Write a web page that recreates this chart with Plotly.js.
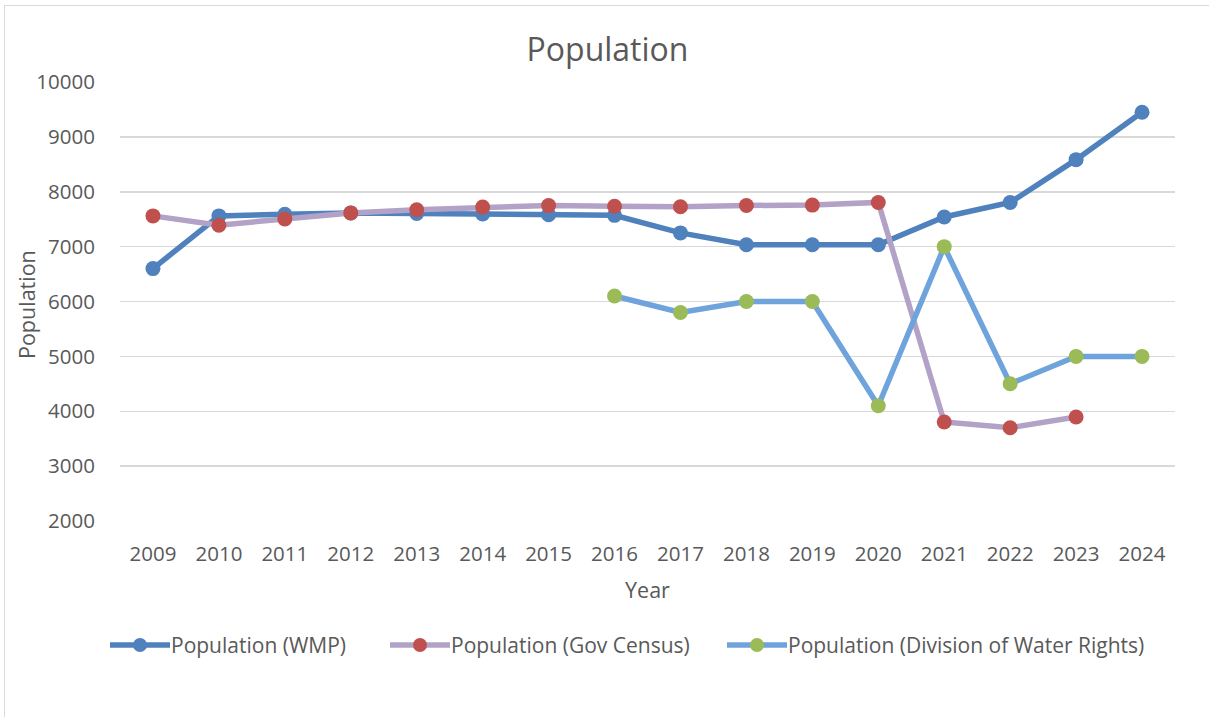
<!DOCTYPE html>
<html>
<head>
<meta charset="utf-8">
<script src="https://cdn.plot.ly/plotly-3.0.1.min.js"></script>
<style>
  body { margin: 0; padding: 0; background: #fff; overflow: hidden; }
  #wrap { position: relative; width: 1209px; height: 717px; }
  #chart { width: 1209px; height: 717px; }
  #frame { position: absolute; left: 4px; top: 5px; width: 1400px; height: 900px;
           border-left: 1.5px solid #D9D9D9; border-top: 1.5px solid #D9D9D9; pointer-events: none; }
</style>
</head>
<body>
<div id="wrap">
  <div id="chart"></div>
  <div id="frame"></div>
</div>
<script>
const years = ["2009","2010","2011","2012","2013","2014","2015","2016","2017","2018","2019","2020","2021","2022","2023","2024"];
const popWMP = [6600, 7560, 7590, 7615, 7605, 7595, 7580, 7570, 7250, 7035, 7035, 7035, 7540, 7805, 8585, 9450];
const popGovCensus = [7560, 7390, 7505, 7612, 7672, 7720, 7748, 7735, 7727, 7750, 7757, 7805, 3805, 3700, 3895, null];
const popWaterRights = [null, null, null, null, null, null, null, 6100, 5800, 6000, 6000, 4100, 7000, 4500, 5000, 5000];
const seriesNames = ["Population (WMP)", "Population (Gov Census)", "Population (Division of Water Rights)"];
const yTicks = [2000, 3000, 4000, 5000, 6000, 7000, 8000, 9000, 10000];

const FONT = '"Open Sans", "Liberation Sans", sans-serif';
const TXT = '#595959';
const lineColors = ['#4F81BD', '#B3A2C7', '#6FA3DC'];
const markerColors = ['#4F81BD', '#C0504D', '#9BBB59'];
const seriesData = [popWMP, popGovCensus, popWaterRights];

const traces = seriesData.map((vals, i) => ({
  x: years, y: vals, name: seriesNames[i], type: 'scatter', mode: 'lines+markers',
  line: { color: lineColors[i], width: 5.5 }, marker: { color: markerColors[i], size: 15 },
  showlegend: false
}));

// Plot area geometry (px) for the custom legend placement
const M = { l: 120, r: 34, t: 82, b: 196 };
const W = 1209, H = 717;
const pw = W - M.l - M.r, ph = H - M.t - M.b;
const px2x = px => (px - M.l) / pw;
const py2y = py => 1 - (py - M.t) / ph;

// legend item start x positions (px) and symbol length
const legendStarts = [110, 390, 727];
const symLen = 60;
const legendY = 645;
const shapes = [];
const annotations = [];
seriesNames.forEach((name, i) => {
  const x0 = legendStarts[i];
  shapes.push({ type: 'line', xref: 'paper', yref: 'paper',
    x0: px2x(x0), x1: px2x(x0 + symLen), y0: py2y(legendY), y1: py2y(legendY),
    line: { color: lineColors[i], width: 5.5 } });
  shapes.push({ type: 'circle', xref: 'paper', yref: 'paper',
    xsizemode: 'pixel', ysizemode: 'pixel',
    xanchor: px2x(x0 + symLen / 2), yanchor: py2y(legendY),
    x0: -7, x1: 7, y0: -7, y1: 7,
    fillcolor: markerColors[i], line: { width: 0 } });
  annotations.push({ xref: 'paper', yref: 'paper', x: px2x(x0 + symLen - 1), y: py2y(legendY),
    xanchor: 'left', yanchor: 'middle', showarrow: false, text: name,
    font: { family: FONT, size: 21, color: TXT } });
});

// y-axis title drawn as rotated text, placed close to the tick labels
annotations.push({ xref: 'paper', yref: 'paper', x: px2x(26), y: py2y(305),
  xanchor: 'center', yanchor: 'middle', showarrow: false, textangle: -90,
  text: 'Population', font: { family: FONT, size: 21.5, color: TXT } });

const layout = {
  width: W, height: H,
  margin: M,
  paper_bgcolor: '#fff', plot_bgcolor: '#fff',
  font: { family: FONT, color: TXT, size: 20 },
  title: { text: 'Population', x: 0.5025, xref: 'container', y: 1 - 50/717, yanchor: 'middle',
           font: { family: FONT, size: 32, color: TXT } },
  xaxis: {
    type: 'category', range: [-0.5, 15.5], showgrid: false, zeroline: false, showline: false,
    ticks: 'outside', ticklen: 14, tickcolor: 'rgba(0,0,0,0)',
    tickfont: { family: FONT, size: 20.5, color: TXT },
    title: { text: 'Year', standoff: 17, font: { family: FONT, size: 21.5, color: TXT } }
  },
  yaxis: {
    range: [2000, 10000], tickvals: yTicks, ticktext: yTicks.map(String),
    showgrid: true, gridcolor: '#D9D9D9', gridwidth: 1.5, zeroline: false, showline: false,
    ticks: 'outside', ticklen: 20, tickcolor: 'rgba(0,0,0,0)',
    tickfont: { family: FONT, size: 20.5, color: TXT }
  },
  showlegend: false,
  shapes: shapes,
  annotations: annotations
};

Plotly.newPlot('chart', traces, layout, { displayModeBar: false, staticPlot: true });
</script>
</body>
</html>
